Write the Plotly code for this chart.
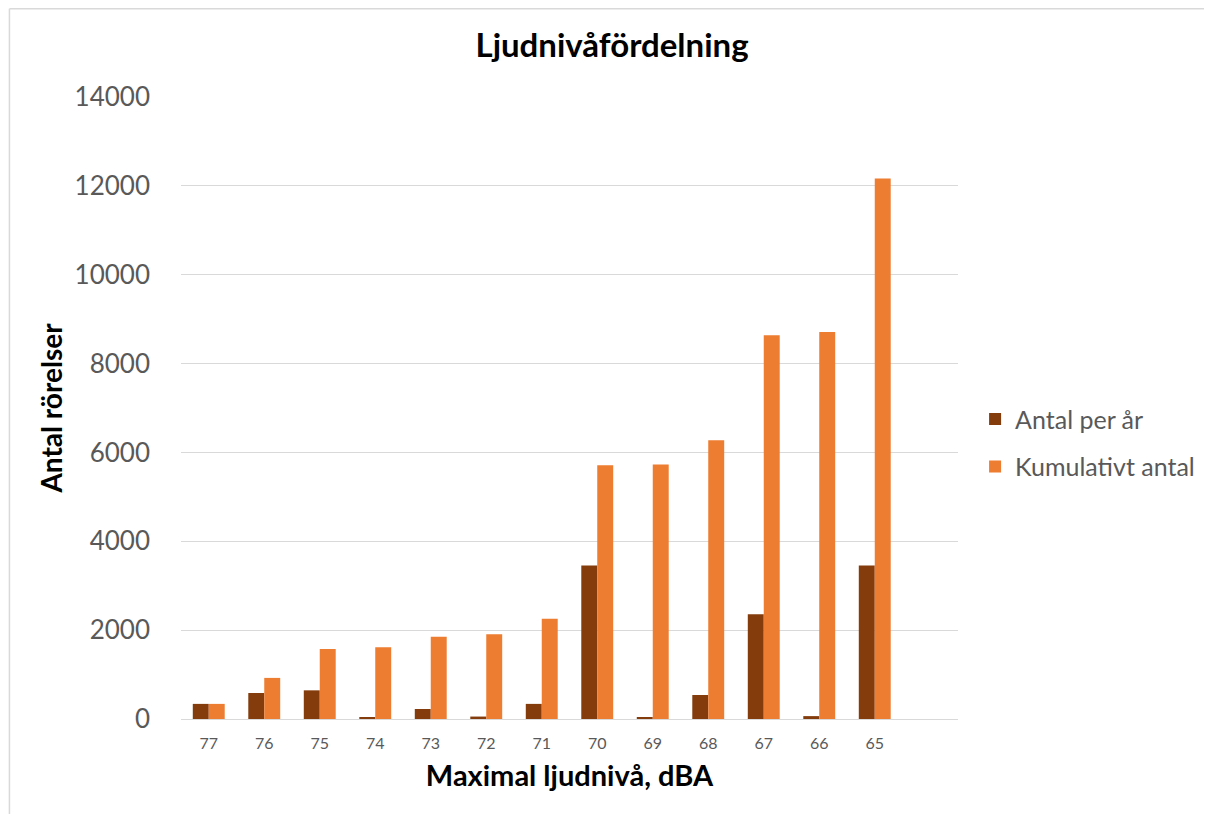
import plotly.graph_objects as go

categories = ["77", "76", "75", "74", "73", "72", "71", "70", "69", "68", "67", "66", "65"]
antal_per_ar = [340, 585, 645, 35, 225, 55, 340, 3455, 25, 540, 2360, 65, 3455]
kumulativt = [340, 925, 1575, 1615, 1850, 1905, 2255, 5710, 5730, 6275, 8640, 8710, 12165]
y_ticks = [0, 2000, 4000, 6000, 8000, 10000, 12000, 14000]

FONT = "Lato, 'Open Sans', sans-serif"
GRAY = "#595959"

fig = go.Figure()
fig.add_trace(go.Bar(x=categories, y=antal_per_ar, name="Antal per år", legendgroup="a",
                     marker=dict(color="#843C0C", line=dict(width=0))))
fig.add_trace(go.Bar(x=categories, y=kumulativt, name="Kumulativt antal", legendgroup="b",
                     marker=dict(color="#ED7D31", line=dict(width=0))))

fig.update_layout(
    width=1204, height=806,
    paper_bgcolor="white", plot_bgcolor="white",
    margin=dict(l=173, r=251, t=89, b=95),
    barmode="group", bargap=0.425, bargroupgap=0,
    title=dict(text="<b>Ljudnivåfördelning</b>", x=0.5017, xanchor="center",
               y=0.954, yanchor="middle",
               font=dict(family=FONT, size=33, color="black")),
    font=dict(family=FONT, color=GRAY),
    legend=dict(x=1.022, xanchor="left", y=0.444, yanchor="middle",
                font=dict(family=FONT, size=25, color=GRAY),
                itemwidth=30, tracegroupgap=12),
    showlegend=True,
)
fig.update_xaxes(
    type="category", categoryorder="array", categoryarray=categories,
    range=[-0.5, 13.5],
    showgrid=False, showline=True, linecolor="#D9D9D9", linewidth=1,
    ticks="", tickfont=dict(family=FONT, size=16, color=GRAY),
    ticklabelstandoff=10,
    title=dict(text="<b>Maximal ljudnivå, dBA</b>", standoff=14,
               font=dict(family=FONT, size=29, color="black")),
)
fig.update_yaxes(
    range=[0, 14000], tickvals=y_ticks, ticktext=[str(v) for v in y_ticks],
    showgrid=True, gridcolor="#D9D9D9", gridwidth=1,
    zeroline=True, zerolinecolor="#D9D9D9", zerolinewidth=1,
    showline=False, ticks="",
    tickfont=dict(family=FONT, size=26, color=GRAY),
    ticklabelstandoff=30,
    title=dict(text="<b>Antal rörelser</b>", standoff=3,
               font=dict(family=FONT, size=28, color="black")),
)
# chart-area border (cropped at right and bottom)
fig.add_shape(type="line", xref="paper", yref="paper",
              x0=-0.2208, x1=1.4, y0=1.1419, y1=1.1419,
              line=dict(color="#D9D9D9", width=1.5))
fig.add_shape(type="line", xref="paper", yref="paper",
              x0=-0.2208, x1=-0.2208, y0=-0.2, y1=1.1419,
              line=dict(color="#D9D9D9", width=1.5))

fig.write_html("out.html")
